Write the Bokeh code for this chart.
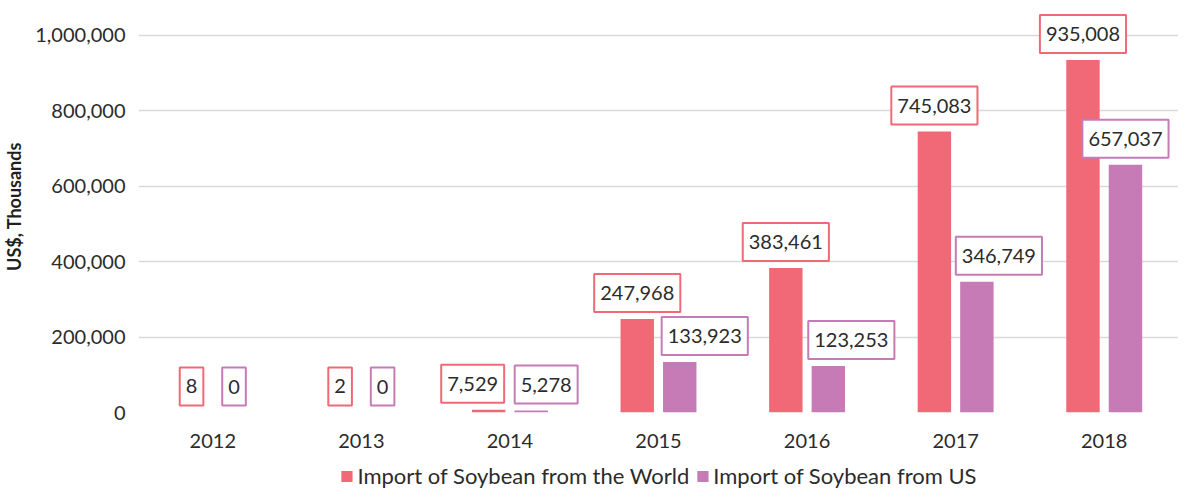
from bokeh.plotting import figure
from bokeh.layouts import column
from bokeh.models import ColumnDataSource, FactorRange, Range1d, Label, Legend, LegendItem, NumeralTickFormatter
from bokeh.transform import dodge
from bokeh.embed import file_html
from bokeh.resources import INLINE

years = ["2012", "2013", "2014", "2015", "2016", "2017", "2018"]
world = [8, 2, 7529, 247968, 383461, 745083, 935008]
us = [0, 0, 5278, 133923, 123253, 346749, 657037]
series_names = ["Import of Soybean from the World", "Import of Soybean from US"]

# label nudges (px) used in the source chart to avoid overlapping boxes
world_nudge = [0, 0, -16, 0, 0, 0, 0]
us_nudge = [0, 0, 15, 25, 23, 22, 0]

C_WORLD = "#F16977"
C_US = "#C67BB6"
FONT = "Lato"
TXT = "#2b2b2b"

src = ColumnDataSource(dict(years=years, world=world, us=us))

p = figure(x_range=FactorRange(*years, range_padding=0), y_range=(0, 1092800),
           width=1178, height=455, output_backend="svg", toolbar_location=None,
           min_border_left=136, min_border_right=0, min_border_top=0, min_border_bottom=43)
p.outline_line_color = None
p.background_fill_color = "white"

OFF = 0.143
W = 0.225
r1 = p.vbar(x=dodge("years", -OFF, range=p.x_range), top="world", width=W, source=src,
            fill_color=C_WORLD, line_color=None)
r2 = p.vbar(x=dodge("years", OFF, range=p.x_range), top="us", width=W, source=src,
            fill_color=C_US, line_color=None)

for vals, nudges, col, off in ((world, world_nudge, C_WORLD, -OFF), (us, us_nudge, C_US, OFF)):
    for k, (v, dx) in enumerate(zip(vals, nudges)):
        p.add_layout(Label(x=k + 0.5 + off, y=v, text=f"{v:,}",
                           x_offset=dx, y_offset=7,
                           text_align="center", text_baseline="bottom",
                           text_font=FONT, text_font_size="20px", text_color=TXT,
                           background_fill_color="white", border_line_color=col,
                           border_line_width=2,
                           padding=dict(left=6, right=6, top=12, bottom=12)))

p.yaxis.formatter = NumeralTickFormatter(format="0,0")
p.yaxis.ticker = [0, 200000, 400000, 600000, 800000, 1000000]
p.yaxis.axis_line_color = None
p.yaxis.major_tick_line_color = None
p.yaxis.minor_tick_line_color = None
p.yaxis.major_label_text_font = FONT
p.yaxis.major_label_text_font_size = "20px"
p.yaxis.major_label_text_color = TXT
p.yaxis.major_label_standoff = 7
p.yaxis.axis_label = "US$, Thousands"
p.yaxis.axis_label_text_font = FONT
p.yaxis.axis_label_text_font_style = "bold"
p.yaxis.axis_label_text_font_size = "18px"
p.yaxis.axis_label_text_color = "#1f1f1f"
p.yaxis.axis_label_standoff = 7

p.xaxis.axis_line_color = None
p.xaxis.major_tick_line_color = None
p.xaxis.minor_tick_line_color = None
p.xaxis.major_label_text_font = FONT
p.xaxis.major_label_text_font_size = "20px"
p.xaxis.major_label_text_color = TXT
p.xaxis.major_label_standoff = 15

p.xgrid.grid_line_color = None
p.ygrid.grid_line_color = "#D9D9D9"
p.ygrid.grid_line_width = 1.5

# legend strip below the chart; its zero-width bars sit outside the strip's visible range
lg = figure(x_range=FactorRange(*years, range_padding=0), y_range=Range1d(-2, -1),
            width=1178, height=34, output_backend="svg", toolbar_location=None,
            min_border_left=20, min_border_right=0, min_border_top=0, min_border_bottom=0)
lg.outline_line_color = None
lg.border_fill_color = "white"
lg.background_fill_color = "white"
lg.axis.visible = False
lg.grid.visible = False
s1 = lg.vbar(x="years", top="world", width=0, source=src, fill_color=C_WORLD, line_color=None)
s2 = lg.vbar(x="years", top="us", width=0, source=src, fill_color=C_US, line_color=None)
legend = Legend(items=[LegendItem(label=series_names[0], renderers=[s1]),
                       LegendItem(label=series_names[1], renderers=[s2])],
                orientation="horizontal", location="bottom_center",
                label_text_font=FONT, label_text_font_size="22px", label_text_color=TXT,
                glyph_width=14, glyph_height=14, label_standoff=4, spacing=6,
                padding=0, margin=0,
                border_line_color=None, background_fill_alpha=0)
lg.add_layout(legend, "center")

layout = column(p, lg, spacing=0)
open("out.html", "w").write(file_html(layout, INLINE))
